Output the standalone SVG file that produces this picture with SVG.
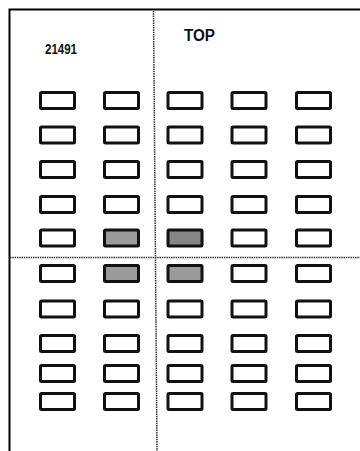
<svg xmlns="http://www.w3.org/2000/svg" width="360" height="451" viewBox="0 0 360 451">
<style>
.b{fill:#fff;stroke:#111;stroke-width:3}
.s1{fill:#9a9a9a;stroke:#111;stroke-width:3}
.s2{fill:#858585;stroke:#111;stroke-width:3}
.t{font-family:"Liberation Sans",Arial,sans-serif;font-weight:bold;fill:#111}
.frame{fill:none;stroke:#000;stroke-width:2}
.dash{fill:none;stroke:#333;stroke-width:1.5;stroke-dasharray:1.5 0.8}
</style>
<rect width="360" height="451" fill="#fff"/>
<g id="frame">
<path class="frame" d="M9.5,451 V9.5 H360"/>
</g>
<g id="connectors">
<path class="dash" d="M153.5,11 L157,451"/>
<path class="dash" d="M10,257.5 H360"/>
</g>
<g id="labels">
<text class="t" x="45" y="53.5" font-size="15.5" textLength="32" lengthAdjust="spacingAndGlyphs">21491</text>
<text class="t" x="184" y="41" font-size="16" textLength="31" lengthAdjust="spacingAndGlyphs">TOP</text>
</g>
<g id="r1">
<g id="n1-1"><rect class="b" x="40.5" y="92.5" width="34" height="16" rx="1"/></g>
<g id="n1-2"><rect class="b" x="104.5" y="92.5" width="34" height="16" rx="1"/></g>
<g id="n1-3"><rect class="b" x="168" y="92.5" width="34" height="16" rx="1"/></g>
<g id="n1-4"><rect class="b" x="232" y="92.5" width="34" height="16" rx="1"/></g>
<g id="n1-5"><rect class="b" x="296.5" y="92.5" width="34" height="16" rx="1"/></g>
</g>
<g id="r2">
<g id="n2-1"><rect class="b" x="40.5" y="127" width="34" height="16" rx="1"/></g>
<g id="n2-2"><rect class="b" x="104.5" y="127" width="34" height="16" rx="1"/></g>
<g id="n2-3"><rect class="b" x="168" y="127" width="34" height="16" rx="1"/></g>
<g id="n2-4"><rect class="b" x="232" y="127" width="34" height="16" rx="1"/></g>
<g id="n2-5"><rect class="b" x="296.5" y="127" width="34" height="16" rx="1"/></g>
</g>
<g id="r3">
<g id="n3-1"><rect class="b" x="40.5" y="161.5" width="34" height="16" rx="1"/></g>
<g id="n3-2"><rect class="b" x="104.5" y="161.5" width="34" height="16" rx="1"/></g>
<g id="n3-3"><rect class="b" x="168" y="161.5" width="34" height="16" rx="1"/></g>
<g id="n3-4"><rect class="b" x="232" y="161.5" width="34" height="16" rx="1"/></g>
<g id="n3-5"><rect class="b" x="296.5" y="161.5" width="34" height="16" rx="1"/></g>
</g>
<g id="r4">
<g id="n4-1"><rect class="b" x="40.5" y="196.5" width="34" height="16" rx="1"/></g>
<g id="n4-2"><rect class="b" x="104.5" y="196.5" width="34" height="16" rx="1"/></g>
<g id="n4-3"><rect class="b" x="168" y="196.5" width="34" height="16" rx="1"/></g>
<g id="n4-4"><rect class="b" x="232" y="196.5" width="34" height="16" rx="1"/></g>
<g id="n4-5"><rect class="b" x="296.5" y="196.5" width="34" height="16" rx="1"/></g>
</g>
<g id="r5">
<g id="n5-1"><rect class="b" x="40.5" y="230" width="34" height="16" rx="1"/></g>
<g id="n5-2"><rect class="s1" x="104.5" y="230" width="34" height="16" rx="1"/></g>
<g id="n5-3"><rect class="s2" x="168" y="230" width="34" height="16" rx="1"/></g>
<g id="n5-4"><rect class="b" x="232" y="230" width="34" height="16" rx="1"/></g>
<g id="n5-5"><rect class="b" x="296.5" y="230" width="34" height="16" rx="1"/></g>
</g>
<g id="r6">
<g id="n6-1"><rect class="b" x="40.5" y="265.5" width="34" height="16" rx="1"/></g>
<g id="n6-2"><rect class="s1" x="104.5" y="265.5" width="34" height="16" rx="1"/></g>
<g id="n6-3"><rect class="s1" x="168" y="265.5" width="34" height="16" rx="1"/></g>
<g id="n6-4"><rect class="b" x="232" y="265.5" width="34" height="16" rx="1"/></g>
<g id="n6-5"><rect class="b" x="296.5" y="265.5" width="34" height="16" rx="1"/></g>
</g>
<g id="r7">
<g id="n7-1"><rect class="b" x="40.5" y="301" width="34" height="16" rx="1"/></g>
<g id="n7-2"><rect class="b" x="104.5" y="301" width="34" height="16" rx="1"/></g>
<g id="n7-3"><rect class="b" x="168" y="301" width="34" height="16" rx="1"/></g>
<g id="n7-4"><rect class="b" x="232" y="301" width="34" height="16" rx="1"/></g>
<g id="n7-5"><rect class="b" x="296.5" y="301" width="34" height="16" rx="1"/></g>
</g>
<g id="r8">
<g id="n8-1"><rect class="b" x="40.5" y="335.5" width="34" height="16" rx="1"/></g>
<g id="n8-2"><rect class="b" x="104.5" y="335.5" width="34" height="16" rx="1"/></g>
<g id="n8-3"><rect class="b" x="168" y="335.5" width="34" height="16" rx="1"/></g>
<g id="n8-4"><rect class="b" x="232" y="335.5" width="34" height="16" rx="1"/></g>
<g id="n8-5"><rect class="b" x="296.5" y="335.5" width="34" height="16" rx="1"/></g>
</g>
<g id="r9">
<g id="n9-1"><rect class="b" x="40.5" y="365.5" width="34" height="16" rx="1"/></g>
<g id="n9-2"><rect class="b" x="104.5" y="365.5" width="34" height="16" rx="1"/></g>
<g id="n9-3"><rect class="b" x="168" y="365.5" width="34" height="16" rx="1"/></g>
<g id="n9-4"><rect class="b" x="232" y="365.5" width="34" height="16" rx="1"/></g>
<g id="n9-5"><rect class="b" x="296.5" y="365.5" width="34" height="16" rx="1"/></g>
</g>
<g id="r10">
<g id="n10-1"><rect class="b" x="40.5" y="393.5" width="34" height="16" rx="1"/></g>
<g id="n10-2"><rect class="b" x="104.5" y="393.5" width="34" height="16" rx="1"/></g>
<g id="n10-3"><rect class="b" x="168" y="393.5" width="34" height="16" rx="1"/></g>
<g id="n10-4"><rect class="b" x="232" y="393.5" width="34" height="16" rx="1"/></g>
<g id="n10-5"><rect class="b" x="296.5" y="393.5" width="34" height="16" rx="1"/></g>
</g>
</svg>
